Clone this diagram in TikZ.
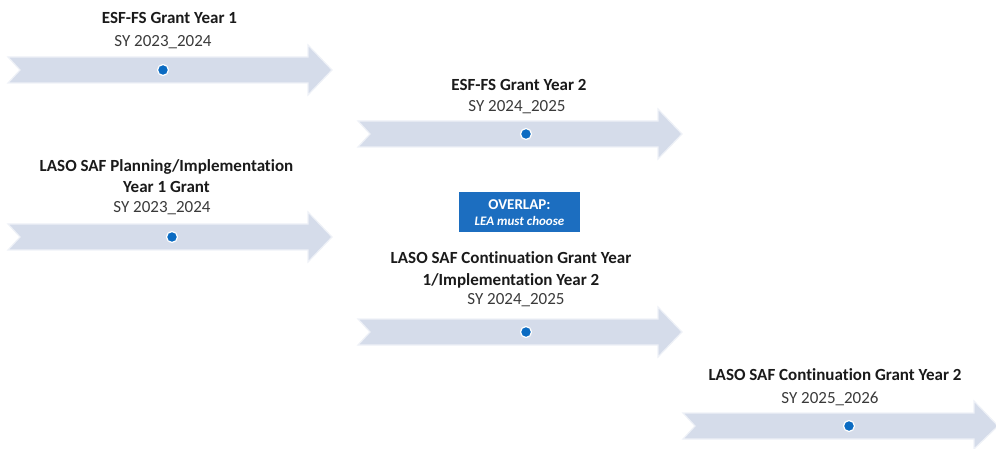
\documentclass[tikz,border=0pt]{standalone}
\usepackage{fontspec}
\setmainfont[Ligatures=NoCommon]{Carlito}
\definecolor{arrowfill}{HTML}{D5DCEA}
\definecolor{arrowedge}{HTML}{EEF1F7}
\definecolor{dotblue}{HTML}{0B6BC2}
\definecolor{boxblue}{HTML}{1C6EC0}
\definecolor{txt}{HTML}{1A1A1A}
\definecolor{subtxt}{HTML}{3A3A3A}
\newcommand{\tdot}[3]{\node[dotnode] (#1) at (#2,#3) {};}
\begin{document}
\begin{tikzpicture}[x=1pt,y=-1pt,
  title/.style={font=\fontsize{17}{21.5}\selectfont\bfseries, text=txt, align=center, inner sep=0pt},
  sub/.style={font=\fontsize{17}{21.5}\selectfont, text=subtxt, inner sep=0pt},
  tarrow/.style={fill=arrowfill, draw=arrowedge, line width=1.2pt},
  dotnode/.style={circle, fill=dotblue, draw=white, line width=1.2pt, minimum size=11pt, inner sep=0pt}]
\useasboundingbox (0,0) rectangle (996,449);
% arrows
\path[tarrow]
  (8,57) -- (308,57) -- (308,45) -- (332,70) -- (308,95) -- (308,83) -- (8,83) -- (20,70) -- cycle;
\path[tarrow]
  (358,121) -- (658,121) -- (658,109) -- (682,134) -- (658,159) -- (658,147) -- (358,147) -- (370,134) -- cycle;
\path[tarrow]
  (8,224) -- (308,224) -- (308,212) -- (332,237) -- (308,262) -- (308,250) -- (8,250) -- (20,237) -- cycle;
\path[tarrow]
  (358,319) -- (658,319) -- (658,307) -- (682,332) -- (658,357) -- (658,345) -- (358,345) -- (370,332) -- cycle;
\path[tarrow]
  (683,413) -- (974,413) -- (974,401) -- (998,426) -- (974,449) -- (974,439) -- (683,439) -- (695,426) -- cycle;
% dots
\tdot{d1}{163}{70}
\tdot{d2}{526}{134}
\tdot{d3}{172}{237}
\tdot{d4}{526}{332}
\tdot{d5}{849}{426}
% texts
\node[title] (t1) at (169.5,18) {ESF-FS Grant Year 1};
\node[sub] (s1) at (163,42) {SY 2023\_2024};
\node[title] (t2) at (519,85) {ESF-FS Grant Year 2};
\node[sub] (s2) at (517,107) {SY 2024\_2025};
\node[title] (t3) at (166.5,176) {LASO SAF Planning/Implementation\\Year 1 Grant};
\node[sub] (s3) at (162,208) {SY 2023\_2024};
\node[fill=boxblue, text=white, align=center, minimum width=121pt, minimum height=40pt, inner sep=0pt,
  font=\fontsize{15}{17}\selectfont] (ov) at (519.5,212.5)
  {\textbf{OVERLAP:}\\[-1pt]{\fontsize{13}{15}\selectfont\bfseries\itshape LEA must choose}};
\node[title] (t4) at (511,270) {LASO SAF Continuation Grant Year\\1/Implementation Year 2};
\node[sub] (s4) at (516,300) {SY 2024\_2025};
\node[title] (t5) at (835,375) {LASO SAF Continuation Grant Year 2};
\node[sub] (s5) at (830,399) {SY 2025\_2026};
\end{tikzpicture}
\end{document}
